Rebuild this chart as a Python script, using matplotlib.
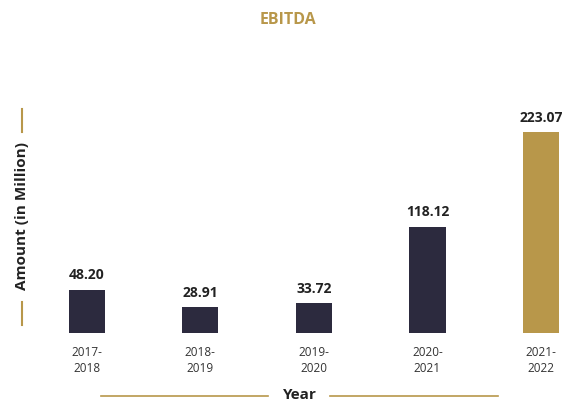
import matplotlib.pyplot as plt
from matplotlib.lines import Line2D

years = ["2017-\n2018", "2018-\n2019", "2019-\n2020", "2020-\n2021", "2021-\n2022"]
ebitda = [48.20, 28.91, 33.72, 118.12, 223.07]

dark = "#2c2a3e"
gold = "#b8974a"
colors = [dark, dark, dark, dark, gold]

plt.rcParams["font.family"] = ["Open Sans", "DejaVu Sans"]

W, H = 563, 402
fig = plt.figure(figsize=(W / 100, H / 100), dpi=100)
# axes placed in pixel terms
ax = fig.add_axes([30 / W, 68 / H, (W - 30) / W, 240 / H])
x = range(len(years))
ax.bar(x, ebitda, width=0.32, color=colors)
ax.set_xlim(-0.5, (W - 87) / 113.5)
ax.set_ylim(0, 240 / 0.901)

for i, v in enumerate(ebitda):
    ax.text(i, v + 9, f"{v:.2f}", ha="center", va="bottom",
            fontsize=10, fontweight="bold", color="#222222")

ax.set_xticks(list(x))
ax.set_xticklabels(years, fontsize=8.5, color="#333333", linespacing=1.3)
ax.tick_params(axis="x", length=0, pad=9)
ax.set_yticks([])
for s in ax.spines.values():
    s.set_visible(False)

fig.text(288 / W, 1 - 20 / H, "EBITDA", ha="center", va="center",
         fontsize=11.5, fontweight="bold", color=gold)

fig.text(22 / W, 1 - 216 / H, "Amount (in Million)", rotation=90,
         ha="center", va="center", fontsize=11, fontweight="bold", color="#222222")
fig.add_artist(Line2D([22 / W, 22 / W], [1 - 110 / H, 1 - 133 / H], color=gold, lw=1.5))
fig.add_artist(Line2D([22 / W, 22 / W], [1 - 303 / H, 1 - 326 / H], color=gold, lw=1.5))

fig.text(300 / W, 1 - 395 / H, "Year", ha="center", va="center",
         fontsize=11, fontweight="bold", color="#222222")
fig.add_artist(Line2D([101 / W, 268 / W], [1 - 397 / H, 1 - 397 / H], color=gold, lw=1.2))
fig.add_artist(Line2D([330 / W, 498 / W], [1 - 397 / H, 1 - 397 / H], color=gold, lw=1.2))

fig.savefig("out.png", dpi=100)
